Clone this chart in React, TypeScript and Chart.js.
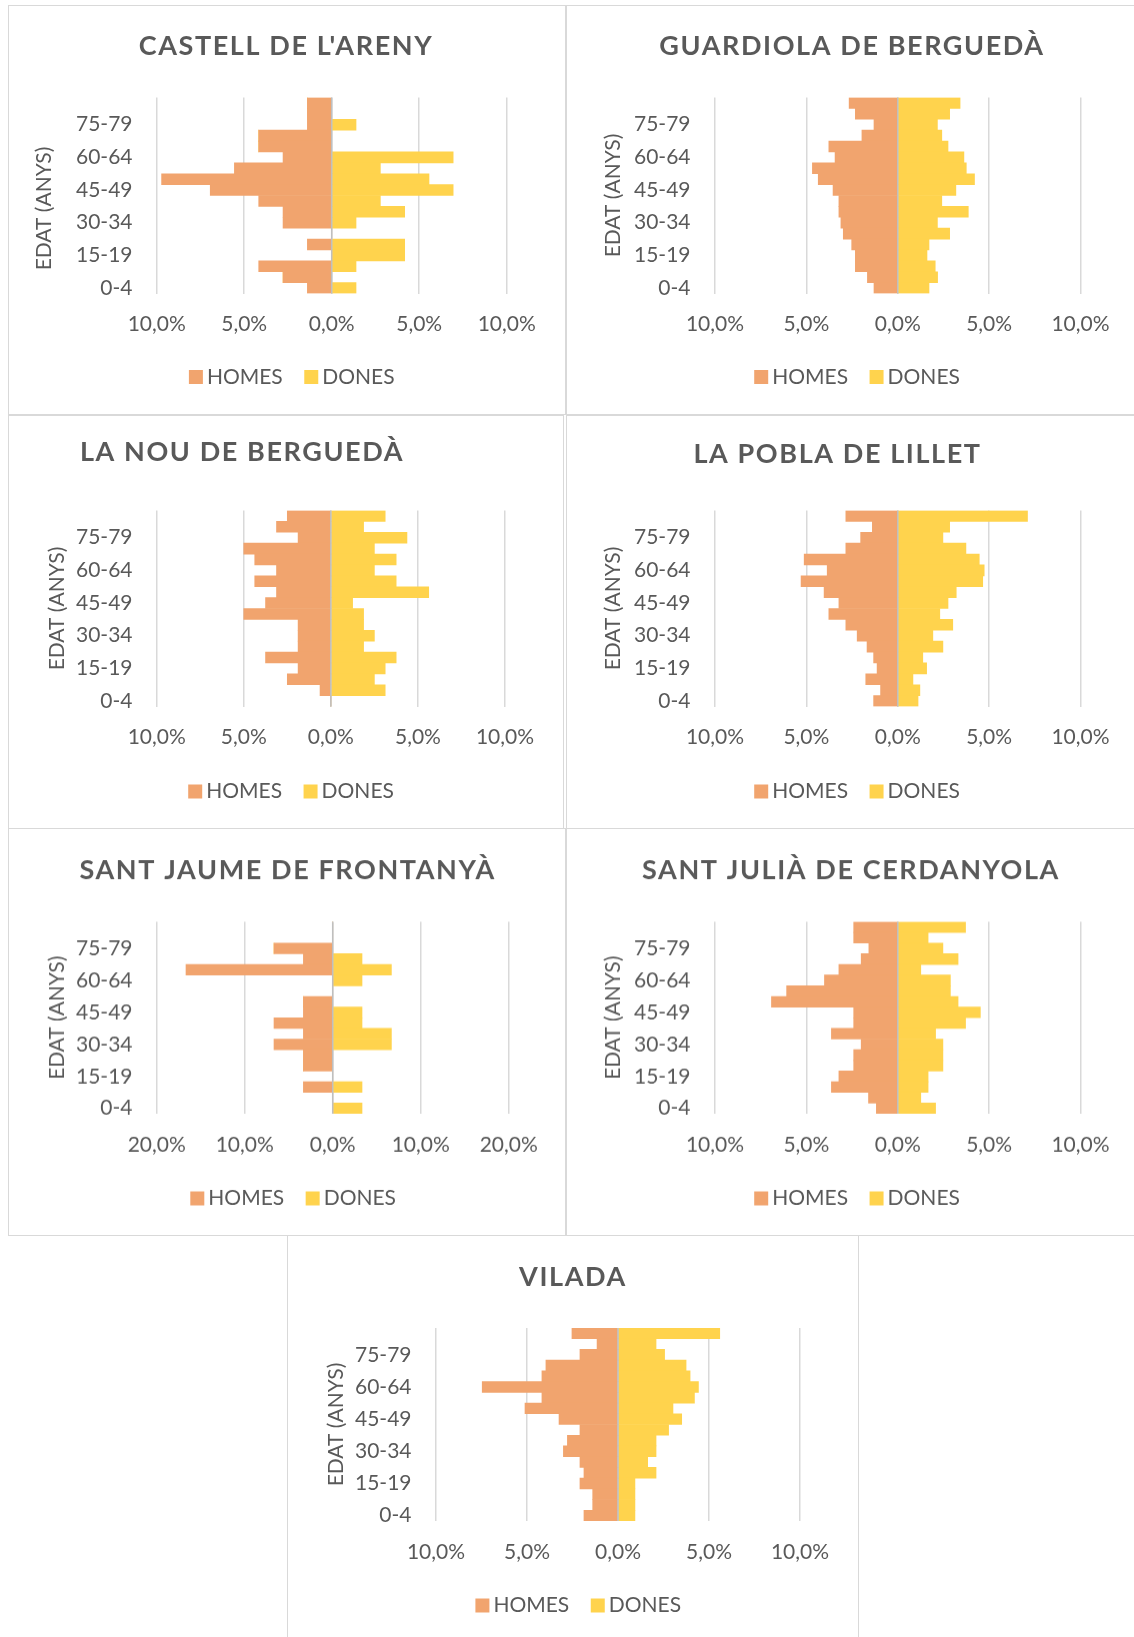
import React, { useEffect, useRef } from 'react';
import { Chart, registerables } from 'chart.js';

Chart.register(...registerables);

// ---------- DATA ----------
const AGE_GROUPS = ['85+', '80-84', '75-79', '70-74', '65-69', '60-64', '55-59', '50-54', '45-49', '40-44', '35-39', '30-34', '25-29', '20-24', '15-19', '10-14', '5-9', '0-4'];
const SERIES_LABELS = ['HOMES', 'DONES'];
const AXIS_TITLE = 'EDAT (ANYS)';

const castellHomes = [1.39, 1.39, 1.39, 4.17, 4.17, 2.78, 5.56, 9.72, 6.94, 4.17, 2.78, 2.78, 0, 1.39, 0, 4.17, 2.78, 1.39];
const castellDones = [0, 0, 1.39, 0, 0, 6.94, 2.78, 5.56, 6.94, 2.78, 4.17, 1.39, 0, 4.17, 4.17, 1.39, 0, 1.39];

const guardiolaHomes = [2.66, 2.32, 1.3, 1.96, 3.77, 3.43, 4.67, 4.35, 3.54, 3.22, 3.22, 3.11, 2.98, 2.52, 2.32, 2.32, 1.66, 1.3];
const guardiolaDones = [3.41, 2.84, 2.17, 2.41, 2.75, 3.62, 3.75, 4.2, 3.18, 2.41, 3.86, 2.17, 2.84, 1.71, 1.6, 2.05, 2.18, 1.71];

const nouHomes = [2.5, 3.12, 1.88, 5.0, 4.37, 3.12, 4.37, 3.12, 3.75, 5.0, 1.88, 1.88, 1.88, 3.75, 1.88, 2.5, 0.62, 0];
const nouDones = [3.12, 1.88, 4.37, 2.5, 3.75, 2.5, 3.75, 5.62, 1.25, 1.88, 1.88, 2.5, 1.88, 3.75, 3.12, 2.5, 3.12, 0];

const poblaHomes = [2.84, 1.39, 2.03, 2.84, 5.12, 3.86, 5.29, 4.03, 3.22, 3.77, 2.84, 2.22, 1.68, 1.32, 1.13, 1.75, 0.94, 1.32];
const poblaDones = [7.1, 2.84, 2.47, 3.73, 4.46, 4.73, 4.65, 3.2, 2.75, 2.3, 3.01, 1.92, 2.47, 1.37, 1.58, 0.83, 1.21, 1.11];

const jaumeHomes = [0, 0, 6.67, 3.33, 16.67, 0, 0, 3.33, 3.33, 6.67, 3.33, 6.67, 3.33, 3.33, 0, 3.33, 0, 0];
const jaumeDones = [0, 0, 0, 3.33, 6.67, 3.33, 0, 0, 3.33, 3.33, 6.67, 6.67, 0, 0, 0, 3.33, 0, 3.33];

const juliaHomes = [2.41, 2.41, 1.58, 2.0, 3.22, 4.01, 6.08, 6.91, 2.41, 2.41, 3.63, 2.0, 2.41, 2.41, 3.22, 3.63, 1.6, 1.17];
const juliaDones = [3.71, 1.66, 2.47, 3.3, 1.26, 2.88, 2.88, 3.3, 4.52, 3.71, 2.07, 2.47, 2.47, 2.47, 1.66, 1.66, 1.26, 2.07];

const viladaHomes = [2.53, 1.15, 2.09, 3.96, 4.18, 7.46, 4.18, 5.11, 3.24, 2.09, 2.78, 3.0, 2.09, 1.87, 2.09, 1.39, 1.39, 1.87];
const viladaDones = [5.59, 2.09, 2.56, 3.74, 3.96, 4.42, 4.2, 3.02, 3.5, 2.78, 2.09, 2.09, 1.63, 2.09, 0.93, 0.93, 0.93, 0.93];

const TITLES = ["CASTELL DE L'ARENY", 'GUARDIOLA DE BERGUEDÀ', 'LA NOU DE BERGUEDÀ', 'LA POBLA DE LILLET', 'SANT JAUME DE FRONTANYÀ', 'SANT JULIÀ DE CERDANYOLA', 'VILADA'];
const HOMES = [castellHomes, guardiolaHomes, nouHomes, poblaHomes, jaumeHomes, juliaHomes, viladaHomes];
const DONES = [castellDones, guardiolaDones, nouDones, poblaDones, jaumeDones, juliaDones, viladaDones];
const X_MAX = [10, 10, 10, 10, 20, 10, 10];
const X_STEP = [5, 5, 5, 5, 10, 5, 5];

// ---------- LAYOUT (page pixels) ----------
type Layout = {
  box: number[]; // left, top, width, height
  area: number[]; // left, top, right, bottom
  titleX: number; titleY: number;
  yTitleX: number; yTitleShift: number; tickRight: number;
  xLabelY: number; legendX: number; legendY: number;
};

const LAYOUTS: Layout[] = [
  { box: [8, 5, 558, 410], area: [156.7, 97.5, 506.7, 293.5], titleX: 286, titleY: 46, yTitleX: 44.5, yTitleShift: 13, tickRight: 132.5, xLabelY: 324.5, legendX: 295, legendY: 377 },
  { box: [566, 5, 580, 410], area: [715, 97.5, 1080.5, 293.5], titleX: 852, titleY: 46, yTitleX: 613.5, yTitleShift: 0, tickRight: 690.5, xLabelY: 324.5, legendX: 860.3, legendY: 377 },
  { box: [8, 414.5, 556, 414], area: [156.7, 510, 505, 706], titleX: 242, titleY: 452, yTitleX: 57.4, yTitleShift: 0, tickRight: 132.5, xLabelY: 737, legendX: 294.3, legendY: 791 },
  { box: [566, 414.5, 580, 414], area: [715, 510, 1080.5, 706], titleX: 837.5, titleY: 454, yTitleX: 613.5, yTitleShift: 0, tickRight: 690.5, xLabelY: 737, legendX: 860.3, legendY: 791 },
  { box: [8, 828, 558, 407.5], area: [156.7, 921.5, 508.7, 1113.5], titleX: 287.7, titleY: 870, yTitleX: 57.4, yTitleShift: 0, tickRight: 132.5, xLabelY: 1145, legendX: 296.4, legendY: 1198 },
  { box: [566, 828, 580, 407.5], area: [715, 921.5, 1080.5, 1113.5], titleX: 851, titleY: 870, yTitleX: 613.5, yTitleShift: 0, tickRight: 690.5, xLabelY: 1145, legendX: 860.3, legendY: 1198 },
  { box: [287, 1235, 572, 410], area: [436, 1328, 800, 1521], titleX: 573, titleY: 1277, yTitleX: 336, yTitleShift: 0, tickRight: 411.5, xLabelY: 1552.5, legendX: 581.5, legendY: 1605.5 },
];

const MALE_COLOR = '#F1A46E';
const FEMALE_COLOR = '#FFD34D';
const TEXT_COLOR = '#595959';
const GRID_COLOR = '#D9D9D9';
const ZERO_COLOR = '#BFBFBF';
const FONT_FAMILY = 'Lato, "Open Sans", sans-serif';
const FS = 21;
const TITLE_FS = 27;
const LEGEND_BOX = 14;
const LEGEND_PAD = 28;

const extrasPlugin = {
  id: 'pyramidExtras',
  afterLayout(chart: any, _args: any, opts: any) {
    const t = chart.titleBlock;
    if (t) {
      const w = t.right - t.left;
      t.left = opts.titleCx - w / 2;
      t.right = opts.titleCx + w / 2;
      if (!t._spaced) {
        const orig = t.draw.bind(t);
        t.draw = (...a: any[]) => {
          const ctx = chart.ctx as any;
          const prev = ctx.letterSpacing;
          ctx.letterSpacing = opts.letterSpacing;
          orig(...a);
          ctx.letterSpacing = prev || '0px';
        };
        t._spaced = true;
      }
    }
    const l = chart.legend;
    if (l) {
      const w = l.right - l.left;
      l.left = opts.legendCx - w / 2;
      l.right = opts.legendCx + w / 2;
    }
    const y = chart.scales.y;
    if (y && !y._shifted) {
      const origTitle = y.drawTitle.bind(y);
      y.drawTitle = (...a: any[]) => {
        const ctx = chart.ctx;
        ctx.save();
        ctx.translate(0, opts.yTitleShift || 0);
        origTitle(...a);
        ctx.restore();
      };
      y._shifted = true;
    }
  },
  afterDatasetsDraw(chart: any) {
    const x = chart.scales.x.getPixelForValue(0);
    const { top, bottom } = chart.chartArea;
    const ctx = chart.ctx;
    ctx.save();
    ctx.strokeStyle = ZERO_COLOR;
    ctx.lineWidth = 1.5;
    ctx.beginPath();
    ctx.moveTo(x, top);
    ctx.lineTo(x, bottom);
    ctx.stroke();
    ctx.restore();
  },
};

function Pyramid({ idx }: { idx: number }) {
  const ref = useRef<HTMLCanvasElement>(null);
  const L = LAYOUTS[idx];
  const [bx, by, bw, bh] = L.box;
  useEffect(() => {
    const [al, at, ar, ab] = L.area;
    const rel = { left: al - bx, top: at - by, right: ar - bx, bottom: ab - by };
    const lh = FS * 1.2;
    const titleLh = TITLE_FS * 1.2;
    const itemH = FS;
    const padB = bh - 10 - itemH / 2 - (L.legendY - by);
    const legendH = itemH + LEGEND_PAD + 10;
    const legendTop = bh - padB - legendH;
    const xAxisH = legendTop - rel.bottom;
    const titlePadTop = (L.titleY - by) - titleLh / 2;
    const titlePadBottom = rel.top - titlePadTop - titleLh;
    const yTitlePadTop = (L.yTitleX - bx) - lh / 2;
    const yTickPad = rel.left - (L.tickRight - bx);
    const xTickPad = (L.xLabelY - by) - rel.bottom - lh / 2;
    const padR = bw - rel.right;
    const font = { family: FONT_FAMILY, size: FS };
    const max = X_MAX[idx];

    const chart = new Chart(ref.current as HTMLCanvasElement, {
      type: 'bar',
      data: {
        labels: AGE_GROUPS,
        datasets: [
          { label: SERIES_LABELS[0], data: HOMES[idx].map((v) => -v), backgroundColor: MALE_COLOR, borderWidth: 0, barPercentage: 1, categoryPercentage: 1 },
          { label: SERIES_LABELS[1], data: DONES[idx], backgroundColor: FEMALE_COLOR, borderWidth: 0, barPercentage: 1, categoryPercentage: 1 },
        ],
      },
      plugins: [extrasPlugin],
      options: {
        indexAxis: 'y',
        animation: false,
        responsive: false,
        devicePixelRatio: 1,
        layout: { autoPadding: false, padding: { left: 0, top: 0, right: padR, bottom: padB } },
        scales: {
          x: {
            type: 'linear',
            min: -max,
            max: max,
            stacked: true,
            ticks: {
              stepSize: X_STEP[idx],
              autoSkip: false,
              maxRotation: 0,
              padding: xTickPad,
              color: TEXT_COLOR,
              font,
              callback: (v: any) => Math.abs(Number(v)).toFixed(1).replace('.', ',') + '%',
            },
            grid: { color: GRID_COLOR, lineWidth: 1.5, drawTicks: false },
            border: { display: false },
            afterFit: (s: any) => {
              s.height = xAxisH;
              s.paddingLeft = 0;
              s.paddingRight = 0;
            },
          },
          y: {
            type: 'category',
            stacked: true,
            offset: true,
            ticks: {
              autoSkip: false,
              padding: yTickPad,
              color: TEXT_COLOR,
              font,
              callback: function (this: any, value: any, index: number) {
                return (AGE_GROUPS.length - 1 - index) % 3 === 0 ? AGE_GROUPS[index] : '';
              },
            },
            grid: { display: false, drawTicks: false },
            border: { display: false },
            title: { display: true, text: AXIS_TITLE, color: TEXT_COLOR, font, padding: { top: yTitlePadTop, bottom: 0 } },
            afterFit: (s: any) => {
              s.width = rel.left;
              s.paddingTop = 0;
              s.paddingBottom = 0;
            },
          },
        },
        plugins: {
          tooltip: { enabled: false },
          title: {
            display: true,
            text: TITLES[idx],
            color: TEXT_COLOR,
            font: { family: FONT_FAMILY, size: TITLE_FS, weight: 'bold' },
            padding: { top: titlePadTop, bottom: titlePadBottom },
          },
          legend: {
            display: true,
            position: 'bottom',
            labels: {
              color: TEXT_COLOR,
              font,
              usePointStyle: true,
              pointStyle: 'rect',
              boxWidth: 1,
              boxHeight: LEGEND_BOX,
              padding: LEGEND_PAD,
            },
          },
          pyramidExtras: { titleCx: L.titleX - bx, legendCx: L.legendX - bx, letterSpacing: '1.6px', yTitleShift: L.yTitleShift },
        } as any,
      } as any,
    });
    return () => chart.destroy();
  }, [idx]);

  return (
    <>
      <div
        style={{
          position: 'absolute',
          left: bx,
          top: by,
          width: bw,
          height: bh,
          border: '1.5px solid #D9D9D9',
          boxSizing: 'border-box',
        }}
      />
      <canvas ref={ref} width={bw} height={bh} style={{ position: 'absolute', left: bx, top: by, width: bw, height: bh }} />
    </>
  );
}

export default function App() {
  return (
    <div style={{ position: 'absolute', left: 0, top: 0, width: 1134, height: 1637, overflow: 'hidden', background: '#FFFFFF' }}>
      {LAYOUTS.map((_, i) => (
        <Pyramid key={i} idx={i} />
      ))}
    </div>
  );
}
